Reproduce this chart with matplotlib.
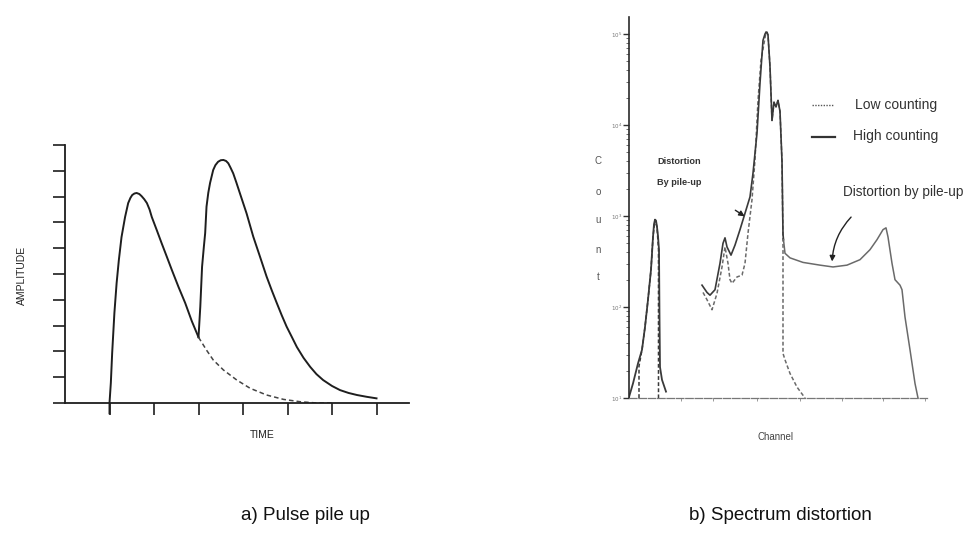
import numpy as np
import matplotlib
matplotlib.use("Agg")
import matplotlib.pyplot as plt

plt.rcParams["font.family"] = ["Liberation Sans", "DejaVu Sans"]

# ---- a) pulse pile up: amplitude vs time ----
pulse1_t = [1.00, 1.00, 1.03, 1.06, 1.11, 1.16, 1.21, 1.27, 1.35, 1.42, 1.47, 1.51, 1.56,
            1.61, 1.67, 1.72, 1.78, 1.84, 1.90, 1.95, 2.06, 2.17, 2.29, 2.40, 2.55, 2.70,
            2.85, 3.00]
pulse1_a = [-0.40, 0.00, 0.78, 1.94, 3.49, 4.65, 5.54, 6.43, 7.21, 7.75, 7.95, 8.06, 8.12,
            8.14, 8.10, 8.02, 7.90, 7.75, 7.50, 7.21, 6.71, 6.20, 5.66, 5.16, 4.50, 3.88,
            3.17, 2.55]

pulse2_t = [3.00, 3.04, 3.08, 3.12, 3.15, 3.18, 3.22, 3.26, 3.33, 3.38, 3.44, 3.50, 3.56,
            3.62, 3.67, 3.72, 3.78, 3.85, 3.93, 4.08, 4.23, 4.38, 4.53, 4.65, 4.76, 4.87,
            4.98, 5.10, 5.21, 5.36, 5.51, 5.65, 5.80, 6.00, 6.18, 6.37, 6.56, 6.78, 7.00]
pulse2_a = [2.55, 3.73, 5.28, 6.05, 6.59, 7.61, 8.15, 8.53, 9.03, 9.22, 9.35, 9.41, 9.42,
            9.38, 9.29, 9.12, 8.90, 8.55, 8.13, 7.35, 6.45, 5.68, 4.90, 4.35, 3.87, 3.40,
            2.96, 2.55, 2.17, 1.75, 1.40, 1.12, 0.89, 0.66, 0.50, 0.39, 0.31, 0.24, 0.18]

tail_t = [3.00, 3.18, 3.33, 3.56, 3.86, 4.16, 4.53, 4.91, 5.28, 5.66, 6.03]
tail_a = [2.55, 2.05, 1.67, 1.28, 0.89, 0.57, 0.31, 0.14, 0.05, 0.00, 0.00]

time_ticks = [1, 2, 3, 4, 5, 6, 7]
amp_ticks = list(range(0, 11))

# ---- b) spectrum distortion: log10(count) vs channel ----
high1_ch = [0, 4, 9, 13, 16, 19, 22, 24, 25, 26, 27, 28, 29, 30, 30.5, 31, 33, 37]
high1_lc = [1.01, 1.16, 1.38, 1.53, 1.78, 2.08, 2.41, 2.77, 2.91, 2.96, 2.95, 2.88, 2.78,
            2.63, 1.89, 1.34, 1.20, 1.07]

low1_ch = [10, 10, 13, 16, 19, 22, 24, 26, 28, 29.5, 29.5, 29.5]
low1_lc = [1.00, 1.35, 1.53, 1.78, 2.08, 2.41, 2.77, 2.96, 2.88, 2.63, 1.60, 1.00]

high2_ch = [73, 78, 81, 86, 91, 94, 96, 98, 102, 106, 111, 116, 121, 124, 128, 131, 134,
            136, 137, 138, 139, 141, 143, 145, 147, 149, 151, 153, 154, 154.5]
high2_lc = [2.24, 2.16, 2.13, 2.19, 2.48, 2.70, 2.76, 2.66, 2.57, 2.68, 2.85, 3.03, 3.21,
            3.47, 3.91, 4.46, 4.93, 5.00, 5.02, 5.02, 4.99, 4.64, 4.05, 4.25, 4.20, 4.27,
            4.15, 3.60, 2.80, 2.74]

pileup_ch = [154.5, 156, 161, 174, 191, 204, 218, 231, 241, 248, 254, 257, 259, 263, 266,
             271, 273, 276, 281, 286, 289]
pileup_lc = [2.74, 2.59, 2.54, 2.49, 2.46, 2.44, 2.46, 2.52, 2.63, 2.74, 2.85, 2.87, 2.77,
             2.48, 2.30, 2.24, 2.19, 1.89, 1.53, 1.16, 1.00]

low2_ch = [74, 78, 83, 88, 93, 96, 99, 101, 103, 108, 113, 116, 119, 123, 126, 129, 132,
           137, 139, 141, 143, 145, 147, 149, 151, 153, 154, 154, 154, 156, 161, 168, 176]
low2_lc = [2.16, 2.08, 1.97, 2.15, 2.44, 2.66, 2.48, 2.30, 2.26, 2.33, 2.35, 2.48, 2.81,
           3.18, 3.62, 4.27, 4.71, 5.02, 4.99, 4.64, 4.05, 4.25, 4.20, 4.27, 4.15, 3.60,
           2.74, 2.08, 1.49, 1.42, 1.27, 1.12, 1.00]

count_labels = ["$10^{1}$", "$10^{2}$", "$10^{3}$", "$10^{4}$", "$10^{5}$"]


def counts(logs):
    return 10.0 ** np.asarray(logs)


fig = plt.figure(figsize=(9.7, 5.6), dpi=100)
W, H = 970.0, 560.0

# left panel
ax1 = fig.add_axes([65 / W, (H - 403) / H, (409 - 65) / W, (403 - 145) / H])
ax1.set_xlim(0, 7.73)
ax1.set_ylim(0, 10)
ink = "#1e1e1e"
ax1.plot(pulse1_t, pulse1_a, color=ink, lw=1.4, clip_on=False, solid_joinstyle="round")
ax1.plot(pulse2_t, pulse2_a, color=ink, lw=1.4, solid_joinstyle="round")
ax1.plot(tail_t, tail_a, color="#444444", lw=1.1, ls=(0, (3, 2)))
for side in ("top", "right"):
    ax1.spines[side].set_visible(False)
for side in ("left", "bottom"):
    ax1.spines[side].set_color(ink)
    ax1.spines[side].set_linewidth(1.3)
ax1.set_xticks(time_ticks)
ax1.set_yticks(amp_ticks)
ax1.tick_params(axis="both", direction="out", length=8.5, width=1.2, color=ink,
                labelbottom=False, labelleft=False)
fig.text(262 / W, 1 - 435 / H, "TIME", ha="center", va="center", fontsize=7.5,
         color="#222222")
fig.text(22 / W, 1 - 275 / H, "AMPLITUDE", ha="center", va="center", rotation=90,
         fontsize=7.5, color="#222222")

# right panel
ax2 = fig.add_axes([629 / W, (H - 398) / H, (927 - 629) / W, (398 - 17) / H])
ax2.set_yscale("log")
ax2.set_xlim(0, 298)
ax2.set_ylim(10 ** 1, 10 ** (1 + 381 / 91))
dark = "#3a3a3a"
grey = "#6a6a6a"
ax2.plot(low1_ch, counts(low1_lc), color=dark, lw=1.1, ls=(0, (2.5, 1.5)))
ax2.plot(high1_ch, counts(high1_lc), color=dark, lw=1.3, solid_joinstyle="round")
ax2.plot(low2_ch, counts(low2_lc), color=grey, lw=1.1, ls=(0, (2.5, 1.5)))
ax2.plot(high2_ch, counts(high2_lc), color=dark, lw=1.2, solid_joinstyle="round")
ax2.plot(pileup_ch, counts(pileup_lc), color=grey, lw=1.1, solid_joinstyle="round")
for side in ("top", "right"):
    ax2.spines[side].set_visible(False)
ax2.spines["left"].set_color("#2a2a2a")
ax2.spines["left"].set_linewidth(1.2)
ax2.spines["bottom"].set_color("#777777")
ax2.spines["bottom"].set_linewidth(0.9)
ax2.spines["bottom"].set_linestyle((0, (6, 1.5)))
ax2.set_yticks(counts([1, 2, 3, 4, 5]))
ax2.set_yticklabels(count_labels)
ax2.tick_params(axis="y", which="major", length=4, width=1.0, color="#333333",
                labelsize=4, labelcolor="#777777", pad=1)
ax2.tick_params(axis="y", which="minor", length=2, width=0.6, color="#555555",
                labelleft=False)
ax2.set_xticks([52, 84, 128, 171, 213, 254, 296])
ax2.tick_params(axis="x", length=2, width=0.6, color="#888888", labelbottom=False)

# legend drawn by hand at the upper right
ax2.plot([183, 204], [counts(4.22)] * 2, color="#555555", lw=1.0, ls=(0, (1, 1)))
ax2.plot([183, 206], [counts(3.87)] * 2, color="#333333", lw=1.6)
ax2.text(226, counts(4.22), "Low counting", fontsize=10, color="#333333", va="center")
ax2.text(224, counts(3.88), "High counting", fontsize=10, color="#333333", va="center")

ax2.text(28, counts(3.60), "Distortion", fontsize=6.6, weight="bold", color="#333333",
         va="center")
ax2.text(28, counts(3.37), "By pile-up", fontsize=6.6, weight="bold", color="#333333",
         va="center")
ax2.annotate("", xy=(118, counts(2.98)), xytext=(104, counts(3.08)),
             arrowprops=dict(arrowstyle="-|>", color="#222222", lw=1.0,
                             mutation_scale=8))
ax2.text(214, counts(3.26), "Distortion by pile-up", fontsize=9.8, color="#333333",
         va="center")
ax2.annotate("", xy=(203, counts(2.47)), xytext=(224, counts(3.01)),
             arrowprops=dict(arrowstyle="-|>", color="#222222", lw=1.0,
                             mutation_scale=8, connectionstyle="arc3,rad=0.2"))

for letter, py in zip("Count", [161, 192, 220, 250, 277]):
    fig.text(598 / W, 1 - py / H, letter, ha="center", va="center", fontsize=7,
             color="#555555")
fig.text(776 / W, 1 - 437 / H, "Channel", ha="center", va="center", fontsize=7,
         color="#444444")

fig.text(305 / W, 1 - 515 / H, "a) Pulse pile up", ha="center", va="center",
         fontsize=13.5, color="#111111")
fig.text(780 / W, 1 - 515 / H, "b) Spectrum distortion", ha="center", va="center",
         fontsize=13.5, color="#111111")

fig.savefig("out.png", dpi=100, facecolor="white")
